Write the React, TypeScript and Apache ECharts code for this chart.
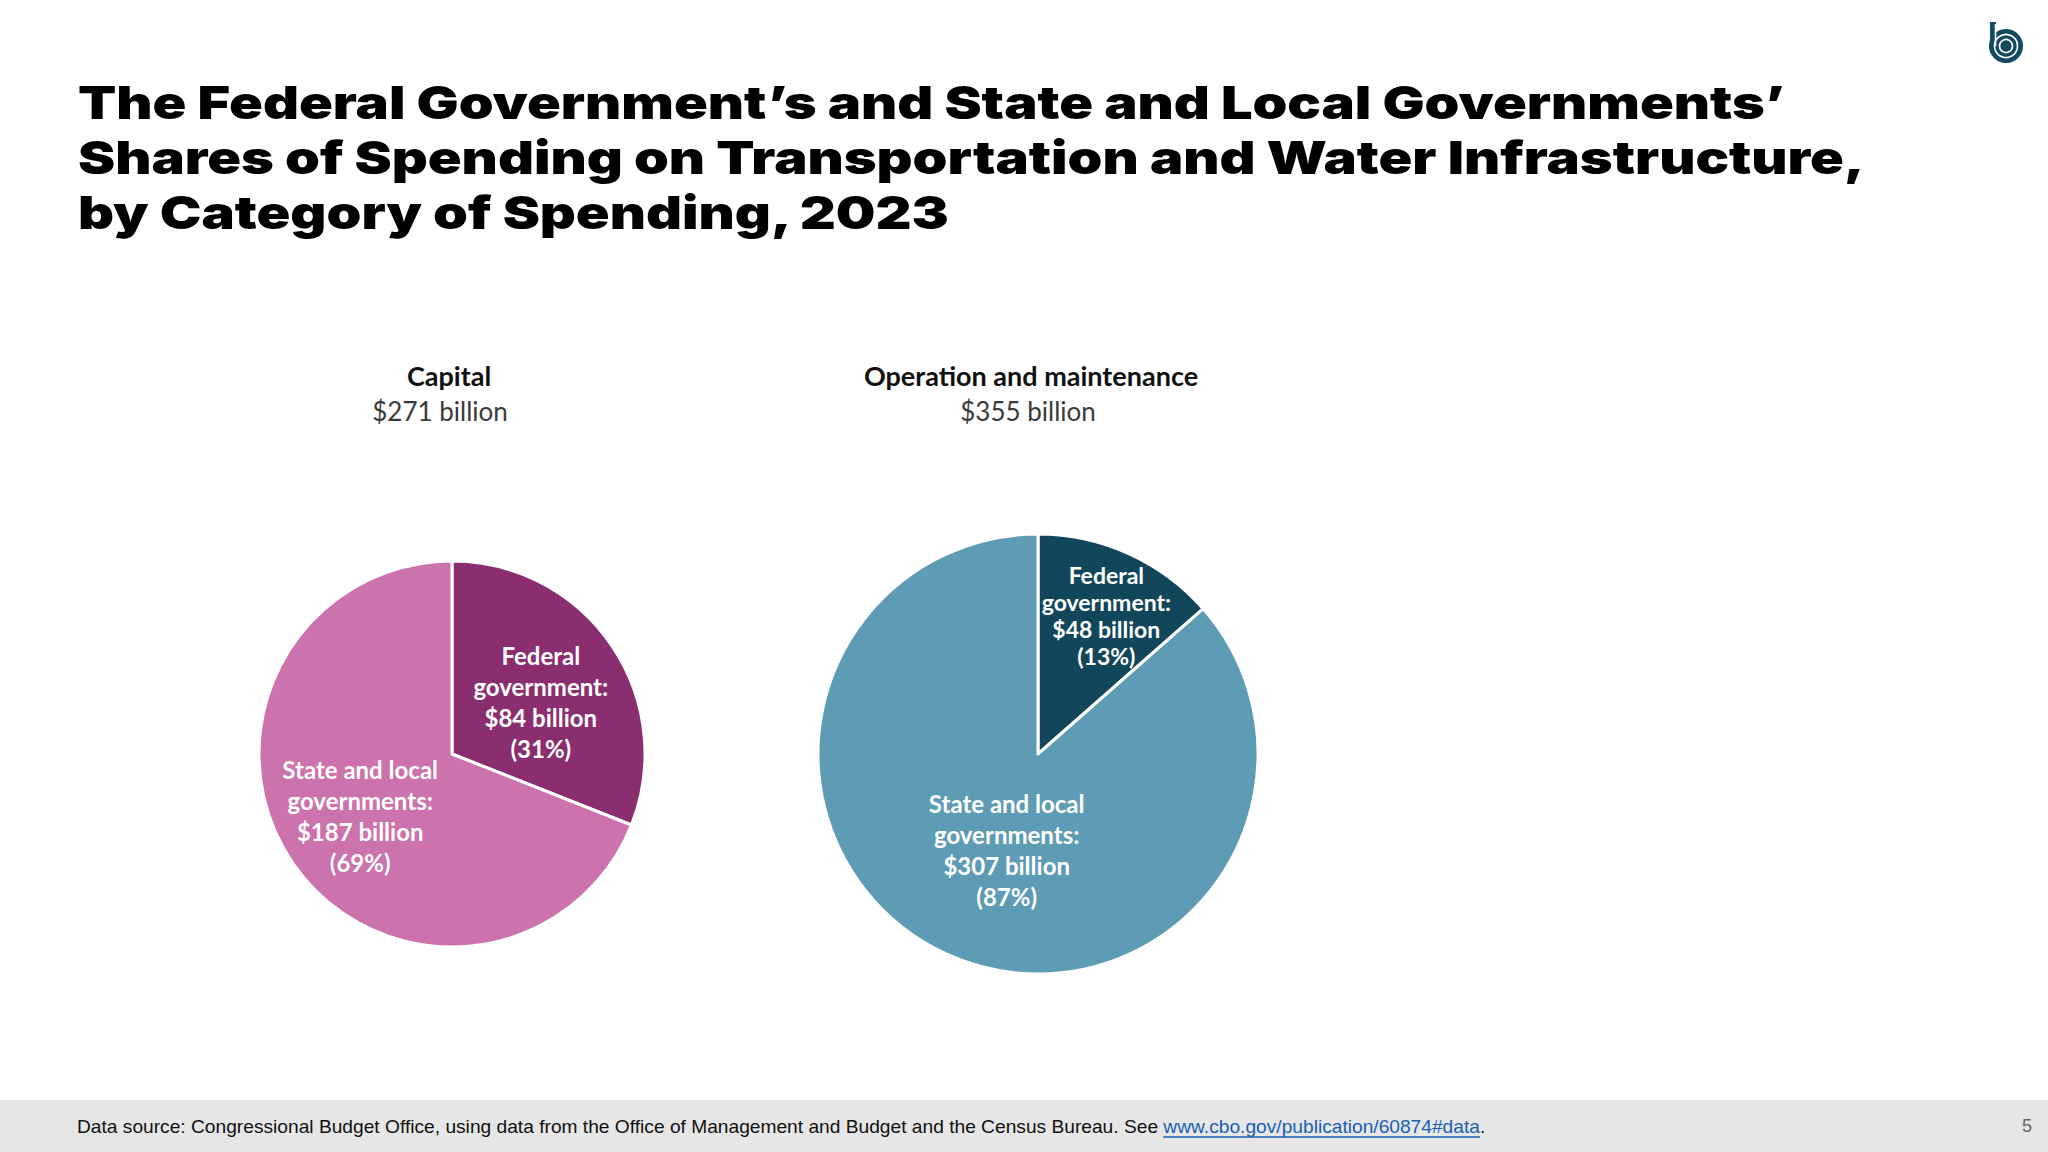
import React, { useEffect, useRef } from "react";
import * as echarts from "echarts";

// ---------- data ----------
const titleLines = [
  "The Federal Government’s and State and Local Governments’",
  "Shares of Spending on Transportation and Water Infrastructure,",
  "by Category of Spending, 2023",
];
const panelTitles = ["Capital", "Operation and maintenance"];
const panelTotals = ["$271 billion", "$355 billion"];
const sliceNames = ["Federal government", "State and local governments"];
const sliceLabelLines = [
  ["Federal", "government:"],
  ["State and local", "governments:"],
];
const capitalValues = [84, 187];
const capitalShares = [31, 69];
const omValues = [48, 307];
const omShares = [13, 87];
const footerText =
  "Data source: Congressional Budget Office, using data from the Office of Management and Budget and the Census Bureau. See ";
const footerLink = "www.cbo.gov/publication/60874#data";
const footerEnd = ".";
const pageNumber = "5";

// ---------- styles / layout ----------
const capitalColors = ["#8A2E6F", "#CC72AC"];
const omColors = ["#12465B", "#5E9BB5"];
const FOOTER_FONT = "'Liberation Sans', Arial, sans-serif";
const TITLE_FONT = "Inter, 'DejaVu Sans', sans-serif";
const LABEL_FONT = "Lato, 'Open Sans', sans-serif";

function measure(text: string, font: string) {
  const c = document.createElement("canvas").getContext("2d");
  if (!c) return text.length * 10;
  c.font = font;
  return c.measureText(text).width;
}

type PieCfg = {
  center: number[];
  radius: number;
  values: number[];
  shares: number[];
  colors: string[];
  fonts: { size: number; lh: number }[];
  shifts: number[][];
};

function makePie(p: PieCfg) {
  return {
    type: "pie",
    center: p.center,
    radius: p.radius,
    startAngle: 90,
    clockwise: true,
    silent: true,
    emphasis: { disabled: true },
    itemStyle: { borderColor: "#ffffff", borderWidth: 3 },
    label: { show: false },
    labelLine: { show: false },
    data: p.values.map((v, i) => ({
      value: v,
      name: sliceNames[i],
      itemStyle: { color: p.colors[i] },
    })),
  };
}

// slice labels: anchored at the slice's mid-angle, half radius, plus a nudge
function pieLabels(p: PieCfg) {
  const total = p.values.reduce((a, b) => a + b, 0);
  let acc = 0;
  return p.values.map((v, i) => {
    const mid = ((acc + v / 2) / total) * Math.PI * 2;
    acc += v;
    const x = p.center[0] + 0.5 * p.radius * Math.sin(mid) + p.shifts[i][0];
    const y = p.center[1] - 0.5 * p.radius * Math.cos(mid) + p.shifts[i][1];
    return {
      type: "text",
      x,
      y,
      z: 10,
      silent: true,
      style: {
        text: [...sliceLabelLines[i], `$${v} billion`, `(${p.shares[i]}%)`].join("\n"),
        fontFamily: LABEL_FONT,
        fontWeight: "bold",
        fontSize: p.fonts[i].size,
        lineHeight: p.fonts[i].lh,
        fill: "#ffffff",
        align: "center",
        verticalAlign: "middle",
      },
    };
  });
}

export default function App() {
  const ref = useRef<HTMLDivElement>(null);

  useEffect(() => {
    document.body.style.margin = "0";
    if (!ref.current) return;
    const chart = echarts.init(ref.current, undefined, { renderer: "svg" });

    const pies: PieCfg[] = [
      {
        center: [452, 754],
        radius: 193,
        values: capitalValues,
        shares: capitalShares,
        colors: capitalColors,
        fonts: [
          { size: 24, lh: 31 },
          { size: 24, lh: 31 },
        ],
        shifts: [
          [9, 2],
          [-12, 8],
        ],
      },
      {
        center: [1038, 754],
        radius: 220,
        values: omValues,
        shares: omShares,
        colors: omColors,
        fonts: [
          { size: 23, lh: 27 },
          { size: 24, lh: 31 },
        ],
        shifts: [
          [23, -38],
          [14, -4],
        ],
      },
    ];

    // title: heavy face, stretched to the reference's width
    const titleSize = 46;
    const titleW = measure(titleLines[1], `900 ${titleSize}px ${TITLE_FONT}`);
    const titleScale = titleW > 0 ? 1787 / titleW : 1;

    // footer: size chosen so that the whole line spans the reference width
    const fullFooter = footerText + footerLink + footerEnd;
    const w18 = measure(fullFooter, `18px ${FOOTER_FONT}`);
    const footerSize = w18 > 0 ? (18 * 1409) / w18 : 19;
    const fontStr = `${footerSize}px ${FOOTER_FONT}`;
    const w1 = measure(footerText, fontStr);
    const w2 = measure(footerLink, fontStr);
    const footerX = 77;
    const footerY = 1126;

    const option = {
      animation: false,
      backgroundColor: "#ffffff",
      graphic: [
        {
          type: "text",
          x: 78,
          y: 74,
          scaleX: titleScale,
          style: {
            text: titleLines.join("\n"),
            fontFamily: TITLE_FONT,
            fontWeight: 900,
            fontSize: titleSize,
            lineHeight: 55,
            fill: "#000000",
            align: "left",
            verticalAlign: "top",
          },
        },
        ...panelTitles.map((t, i) => ({
          type: "text",
          x: [449, 1031][i],
          y: 375,
          style: {
            text: t,
            fontFamily: LABEL_FONT,
            fontWeight: "bold",
            fontSize: 27,
            fill: "#111111",
            align: "center",
            verticalAlign: "middle",
          },
        })),
        ...panelTotals.map((t, i) => ({
          type: "text",
          x: [440, 1028][i],
          y: 411,
          style: {
            text: t,
            fontFamily: LABEL_FONT,
            fontWeight: "normal",
            fontSize: 26,
            fill: "#3a3a3a",
            align: "center",
            verticalAlign: "middle",
          },
        })),
        ...pieLabels(pies[0]),
        ...pieLabels(pies[1]),
        {
          type: "rect",
          shape: { x: 0, y: 1100, width: 2048, height: 52 },
          style: { fill: "#E6E6E6" },
          z: -1,
        },
        {
          type: "text",
          x: footerX,
          y: footerY,
          style: {
            text: footerText,
            fontFamily: FOOTER_FONT,
            fontSize: footerSize,
            fill: "#111111",
            verticalAlign: "middle",
          },
        },
        {
          type: "text",
          x: footerX + w1,
          y: footerY,
          style: {
            text: footerLink,
            fontFamily: FOOTER_FONT,
            fontSize: footerSize,
            fill: "#1a5fb4",
            verticalAlign: "middle",
          },
        },
        {
          type: "text",
          x: footerX + w1 + w2,
          y: footerY,
          style: {
            text: footerEnd,
            fontFamily: FOOTER_FONT,
            fontSize: footerSize,
            fill: "#111111",
            verticalAlign: "middle",
          },
        },
        {
          type: "line",
          shape: { x1: footerX + w1, y1: footerY + 11, x2: footerX + w1 + w2, y2: footerY + 11 },
          style: { stroke: "#1a5fb4", lineWidth: 1.5 },
        },
        {
          type: "text",
          x: 2027,
          y: footerY,
          style: {
            text: pageNumber,
            fontFamily: FOOTER_FONT,
            fontSize: 18,
            fill: "#666666",
            align: "center",
            verticalAlign: "middle",
          },
        },
        {
          type: "group",
          children: [
            { type: "circle", shape: { cx: 2006, cy: 46, r: 17 }, style: { fill: "#134A5F" } },
            { type: "rect", shape: { x: 1990, y: 22, width: 6, height: 24 }, style: { fill: "#134A5F" } },
            { type: "circle", shape: { cx: 2006, cy: 46, r: 11.5 }, style: { fill: "none", stroke: "#ffffff", lineWidth: 1.6 } },
            { type: "circle", shape: { cx: 2006, cy: 46, r: 6.5 }, style: { fill: "none", stroke: "#ffffff", lineWidth: 1.6 } },
            { type: "line", shape: { x1: 1995.5, y1: 24, x2: 1995.5, y2: 46 }, style: { stroke: "#ffffff", lineWidth: 1.6 } },
          ],
        },
      ],
      series: [makePie(pies[0]), makePie(pies[1])],
    };

    chart.setOption(option as any);
    return () => chart.dispose();
  }, []);

  return <div ref={ref} style={{ width: 2048, height: 1152 }} />;
}
